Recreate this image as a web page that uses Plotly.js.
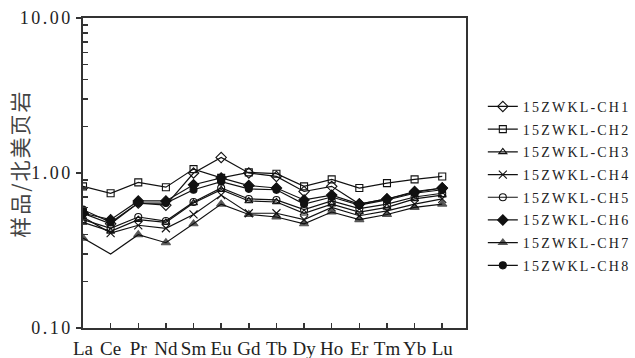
<!DOCTYPE html>
<html><head><meta charset="utf-8">
<script src="https://cdn.plot.ly/plotly-3.0.1.min.js"></script>
<style>
body{margin:0;background:#fff}
#c{width:635px;height:358px}
.legendtext{letter-spacing:2.2px}
.legend .scrollbox{transform:translate(13px,0px)}
.ytick text{letter-spacing:2.5px}
.annotation-text{letter-spacing:2px}
</style>
</head><body><div id="c"></div>
<script>
const elements = ["La","Ce","Pr","Nd","Sm","Eu","Gd","Tb","Dy","Ho","Er","Tm","Yb","Lu"];
const names = ["15ZWKL-CH1","15ZWKL-CH2","15ZWKL-CH3","15ZWKL-CH4","15ZWKL-CH5","15ZWKL-CH6","15ZWKL-CH7","15ZWKL-CH8"];
const ch1 = [0.55,0.47,0.64,0.62,1.00,1.26,1.00,0.95,0.76,0.82,0.63,0.68,0.75,0.80];
const ch2 = [0.82,0.74,0.87,0.81,1.06,0.93,1.01,0.99,0.82,0.91,0.80,0.86,0.91,0.95];
const ch3 = [0.48,0.42,0.50,0.48,0.64,0.78,0.66,0.65,0.55,0.63,0.56,0.60,0.68,0.72];
const ch4 = [0.52,0.41,0.46,0.44,0.54,0.72,0.55,0.55,0.50,0.60,0.53,0.57,0.63,0.68];
const ch5 = [0.50,0.44,0.52,0.49,0.65,0.80,0.68,0.67,0.58,0.66,0.59,0.63,0.70,0.74];
const ch6 = [0.55,0.50,0.66,0.66,0.84,0.93,0.83,0.80,0.67,0.72,0.63,0.68,0.76,0.80];
const ch7 = [0.38,0.30,0.40,0.355,0.47,0.63,0.54,0.52,0.47,0.56,0.50,0.54,0.60,0.63];
const ch8 = [0.58,0.48,0.64,0.64,0.78,0.88,0.79,0.78,0.63,0.70,0.62,0.67,0.74,0.78];
const series = [ch1,ch2,ch3,ch4,ch5,ch6,ch7,ch8];
const yTitle = '样品/北美页岩';
const symbols = ["diamond-open","square-open","triangle-up-open","x-thin-open","circle-open","diamond","triangle-up","circle"];
const sizes = [8,7,7,8,7,8,8,7];
const xIdx = elements.map((e,i)=>i);

const traces = series.map((s,k)=>({
  x: xIdx, y: s, name: names[k], legendgroup: 'g'+k, type:'scatter', mode:'lines+markers',
  line:{color:'#111', width:1.2},
  marker:{symbol:symbols[k], size: (k===6 ? xIdx.map(i=> i===1?0:sizes[k]) : sizes[k]), color:'#111', line:{color:'#111', width:1.1}}
}));

const layout = {
  width:635, height:358,
  margin:{l:83, r:154, t:18, b:30},
  paper_bgcolor:'#fff', plot_bgcolor:'#fff',
  showlegend:true,
  font:{family:'Liberation Serif, serif', color:'#222'},
  legend:{x:1.010, y:0.765, xanchor:'left', yanchor:'top', traceorder:'grouped', tracegroupgap:1.5,
    font:{family:'Liberation Serif, serif', size:14, color:'#222'}, itemwidth:30, bgcolor:'rgba(0,0,0,0)'},
  xaxis:{range:[0,13.86], tickvals:xIdx, ticktext:elements, ticks:'inside', ticklen:5, tickcolor:'#333', tickwidth:1.5,
    showline:true, linecolor:'#333', linewidth:1.6, mirror:true, showgrid:false, zeroline:false,
    tickangle:0, ticklabelstandoff:3,
    tickfont:{family:'Liberation Serif, serif', size:19, color:'#222'}},
  yaxis:{type:'log', range:[-1,1], tickvals:[0.1,1,10], ticktext:['0.10','1.00','10.00'], ticks:'outside', ticklen:5, tickcolor:'#333', tickwidth:1.5,
    showline:true, linecolor:'#333', linewidth:1.6, mirror:true, showgrid:false, zeroline:false,
    tickfont:{family:'Liberation Serif, serif', size:18, color:'#222'},
    minor:{tickvals:[0.2,0.3,0.4,0.5,0.6,0.7,0.8,0.9,2,3,4,5,6,7,8,9], ticks:'inside', ticklen:5, tickcolor:'#333', tickwidth:1.2, showgrid:false}},
  annotations:[{text:yTitle, xref:'paper', yref:'paper', x:-0.168, y:0.529, xanchor:'center', yanchor:'middle',
    textangle:-90, showarrow:false, font:{family:'Noto Sans CJK SC, sans-serif', size:21, color:'#444'}}]
};
Plotly.newPlot('c', traces, layout, {displayModeBar:false, staticPlot:true});
</script></body></html>
